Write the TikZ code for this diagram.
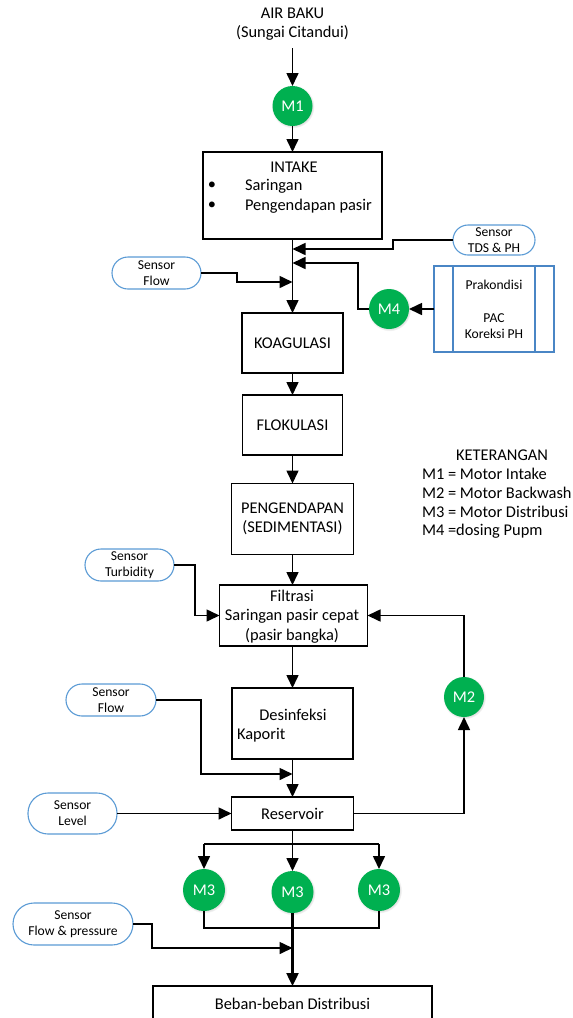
\documentclass[tikz,border=0pt]{standalone}
\usepackage{fontspec}
\setmainfont{Carlito}
\usetikzlibrary{arrows.meta,shadows}
\definecolor{motorgreen}{HTML}{00B050}
\definecolor{sensorblue}{HTML}{5B9BD5}
\definecolor{prakblue}{HTML}{4A86C5}

\begin{document}
\begin{tikzpicture}[x=1pt,y=-1pt,
  every node/.style={font=\fontsize{16.4}{19.5}\selectfont, inner sep=0pt, outer sep=0pt},
  proc/.style={draw, line width=1.3pt, fill=white},
  motor/.style={circle, fill=motorgreen, minimum size=40pt, text=white,
    circular drop shadow={shadow xshift=0.4pt, shadow yshift=-0.6pt, shadow scale=1.08, opacity=0.3}},
  sensor/.style={draw=sensorblue, line width=1.1pt, fill=white, align=center,
    font=\fontsize{13.6}{16}\selectfont},
  flow/.style={line width=1.6pt, -{Triangle[length=13pt,width=12pt]}},
  link/.style={line width=1.6pt},
  txt/.style={align=center},
]
\useasboundingbox (0,0) rectangle (573,1018);

% ---- source and intake ----
\node[txt] (src) at (292.5,24) {AIR BAKU\\(Sungai Citandui)};
\coordinate (srcend) at (292.5,48);
\node[motor] (m1) at (292.5,106) {M1};

\node[proc, minimum width=179pt, minimum height=87pt] (intake) at (292.5,195.5) {};
\node (intaket) at (294,167) {INTAKE};
\node (bul1) at (212,186) {\textbullet};
\node (bul2) at (212,206) {\textbullet};
\node[anchor=west] (sar) at (245,186) {Saringan};
\node[anchor=west] (pgp) at (245,206) {Pengendapan pasir};

% ---- dosing and sensors above coagulation ----
\node[sensor, minimum width=82pt, minimum height=30pt, rounded corners=15pt] (tds) at (494,240) {Sensor\\TDS \& PH};
\node[sensor, minimum width=89pt, minimum height=32pt, rounded corners=16pt] (sflow1) at (156.5,273) {Sensor\\Flow};
\node[motor] (m4) at (389,309) {M4};
\node[draw=prakblue, line width=1.1pt, fill=white, minimum width=120pt, minimum height=86pt] (prak) at (494,309) {};
\draw[prakblue, line width=1.1pt] ([xshift=19pt]prak.north west) -- ([xshift=19pt]prak.south west);
\draw[prakblue, line width=1.1pt] ([xshift=-19pt]prak.north east) -- ([xshift=-19pt]prak.south east);
\node[font=\fontsize{13.6}{16}\selectfont] (prakt1) at (494,285) {Prakondisi};
\node[font=\fontsize{13.6}{16}\selectfont, align=center] (prakt2) at (494,326) {PAC\\Koreksi PH};

\coordinate (j1) at (292.5,249);
\coordinate (j2) at (292.5,263);
\coordinate (j3) at (292.5,282);

% ---- treatment chain ----
\node[proc, minimum width=101pt, minimum height=60pt] (koag) at (292.5,343) {KOAGULASI};
\node[proc, minimum width=100pt, minimum height=60pt] (flok) at (292.5,425) {FLOKULASI};
\node[proc, minimum width=122pt, minimum height=71pt, align=center] (sed) at (292.5,519) {PENGENDAPAN\\(SEDIMENTASI)};
\node[proc, minimum width=148pt, minimum height=61pt] (filt) at (293.5,615.5) {};
\node[txt] (filtt) at (292,616.5) {Filtrasi\\Saringan pasir cepat\\(pasir bangka)};
\node[proc, minimum width=121pt, minimum height=71pt] (desinf) at (292.5,723.5) {};
\node (desinft) at (293,715) {Desinfeksi};
\node[anchor=west] (kaporit) at (237,735) {Kaporit};
\node[proc, minimum width=122pt, minimum height=33pt] (res) at (292.5,813.5) {Reservoir};

\node[sensor, minimum width=89pt, minimum height=32pt, rounded corners=16pt] (sturb) at (129.5,565) {Sensor\\Turbidity};
\node[sensor, minimum width=90pt, minimum height=32pt, rounded corners=16pt] (sflow2) at (111,700) {Sensor\\Flow};
\node[sensor, minimum width=89pt, minimum height=41pt, rounded corners=20pt] (slevel) at (72.5,813.5) {Sensor\\Level};
\node[sensor, minimum width=120pt, minimum height=42pt, rounded corners=21pt] (sfp) at (73,924) {Sensor\\Flow \& pressure};
\node[motor] (m2) at (464,697) {M2};

% ---- distribution pumps ----
\node[motor, minimum size=42pt] (m3a) at (204,890) {M3};
\node[motor, minimum size=42pt] (m3b) at (292.5,892) {M3};
\node[motor, minimum size=42pt] (m3c) at (379,890) {M3};
\coordinate (split) at (292.5,844);
\coordinate (merge) at (292.5,928);
\coordinate (j4) at (292.5,774);
\coordinate (j5) at (292.5,948);

\node[proc, minimum width=279pt, minimum height=50pt] (beban) at (292.5,1011) {};
\node (bebant) at (292.5,1004) {Beban-beban Distribusi};

% ---- legend ----
\node (leg) at (502,455) {KETERANGAN};
\node[anchor=west] (leg1) at (422,474) {M1 = Motor Intake};
\node[anchor=west] (leg2) at (422,493) {M2 = Motor Backwash};
\node[anchor=west] (leg3) at (422,512) {M3 = Motor Distribusi};
\node[anchor=west] (leg4) at (422,531) {M4 =dosing Pupm};

% ---- connectors ----
\draw[flow] (srcend) -- (m1.north);
\draw[flow] (m1.south) -- (intake.north);
\draw[flow] (intake.south) -- (koag.north);
\draw[flow] (tds.west) -- (393,240) |- (j1);
\draw[flow] (m4.west) -- (358,309) |- (j2);
\draw[flow] (sflow1.east) -- (237,273) |- (j3);
\draw[flow] (prak.west) -- (m4.east);

\draw[flow] (koag.south) -- (flok.north);
\draw[flow] (flok.south) -- (sed.north);
\draw[flow] (sed.south) -- (sed.south |- filt.north);
\draw[flow] (sturb.east) -- (195,565) |- (filt.west);
\draw[flow] (m2.north) |- (filt.east);
\draw[flow] (sed.south |- filt.south) -- (desinf.north);
\draw[flow] (desinf.south) -- (res.north);
\draw[flow] (sflow2.east) -- (201,700) |- (j4);
\draw[flow] (slevel.east) -- (res.west);
\draw[flow] (res.east) -| (m2.south);

\draw[link] (res.south) -- (split);
\draw[link] (m3a.north |- split) -- (m3c.north |- split);
\draw[flow] (m3a.north |- split) -- (m3a.north);
\draw[flow] (split) -- (m3b.north);
\draw[flow] (m3c.north |- split) -- (m3c.north);
\draw[link] (m3a.south) |- (m3c.south |- merge) -- (m3c.south);
\draw[flow, line width=2.4pt] (m3b.south) -- (beban.north);
\draw[flow] (sfp.east) -- (152,924) |- (j5);
\end{tikzpicture}
\end{document}
